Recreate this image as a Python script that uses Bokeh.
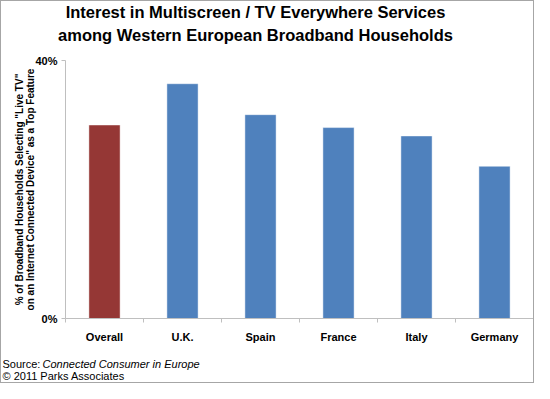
from bokeh.plotting import figure
from bokeh.models import Range1d, FixedTicker, Label, LinearAxis, ColumnDataSource, CustomJSTickFormatter
from bokeh.embed import file_html
from bokeh.resources import INLINE

categories = ["Overall", "U.K.", "Spain", "France", "Italy", "Germany"]
values = [30.0, 36.4, 31.6, 29.6, 28.3, 23.6]
bar_colors = ["#953735", "#4F81BD", "#4F81BD", "#4F81BD", "#4F81BD", "#4F81BD"]
y_ticks = [0, 40]
title_lines = ["Interest in Multiscreen / TV Everywhere Services",
               "among Western European Broadband Households"]
y_label = '% of Broadband Households Selecting "Live TV"\non an Internet Connected Device" as a Top Feature'
source_prefix = "Source: "
source_title = "Connected Consumer in Europe"
copyright_text = "\u00a9 2011 Parks Associates"

FONT = "Liberation Sans"
W, H = 534, 383
# plot-area geometry in figure pixels
AX_LEFT, AX_TOP, AX_BOTTOM = 64, 59, 317
CAT_PX = 78.0                      # pixels per category
Y_MAX = 40.0
PCT_PX = (AX_BOTTOM - AX_TOP) / Y_MAX

def fx(px):  # figure pixel x -> data x
    return (px - AX_LEFT) / CAT_PX

def fy(py):  # figure pixel y (from top) -> data y
    return (AX_BOTTOM - py) / PCT_PX

n = len(categories)
centers = [i + 0.5 for i in range(n)]
bounds_ticks = list(range(n + 1))
src = ColumnDataSource(dict(x=centers, val=values, color=bar_colors))

p = figure(width=W, height=H, output_backend="svg", toolbar_location=None,
           x_range=Range1d(fx(0), fx(W)), y_range=Range1d(fy(H), fy(0)),
           x_axis_type=None, y_axis_type=None, min_border=0)
p.xgrid.visible = False
p.ygrid.visible = False
p.outline_line_color = None

p.vbar(x="x", top="val", width=0.4, source=src, fill_color="color",
       line_color="#ffffff", line_alpha=0.45, line_width=1)

AXIS_GREY = "#bfbfbf"

# y axis
yax = LinearAxis(fixed_location=0, bounds=(0, Y_MAX), ticker=FixedTicker(ticks=y_ticks),
                 formatter=CustomJSTickFormatter(code="return tick + '%';"))
yax.minor_tick_line_color = None
yax.major_tick_out = 4
yax.major_tick_in = 0
yax.axis_line_color = AXIS_GREY
yax.major_tick_line_color = AXIS_GREY
yax.major_label_text_font = FONT
yax.major_label_text_font_style = "bold"
yax.major_label_text_font_size = "11px"
yax.major_label_text_color = "#000000"
yax.major_label_standoff = 4
yax.axis_label = y_label
yax.axis_label_text_font = FONT
yax.axis_label_text_font_style = "bold"
yax.axis_label_text_font_size = "10px"
yax.axis_label_text_line_height = 1.0
yax.axis_label_text_color = "#000000"
yax.axis_label_standoff = -4
p.add_layout(yax, "left")

# x axis: category labels at centres, small ticks at category boundaries
xax = LinearAxis(fixed_location=0, bounds=(0, n),
                 ticker=FixedTicker(ticks=centers, minor_ticks=bounds_ticks),
                 major_label_overrides={c: cat for c, cat in zip(centers, categories)})
xax.axis_line_color = AXIS_GREY
xax.major_tick_line_color = None
xax.major_tick_out = 0
xax.major_tick_in = 0
xax.minor_tick_line_color = AXIS_GREY
xax.minor_tick_out = 4
xax.minor_tick_in = 0
xax.major_label_text_font = FONT
xax.major_label_text_font_style = "bold"
xax.major_label_text_font_size = "11px"
xax.major_label_text_color = "#000000"
xax.major_label_standoff = 8
p.add_layout(xax, "below")

# title (two centred lines)
for line, py in zip(title_lines, (10, 33)):
    p.add_layout(Label(x=fx(254), y=fy(py), text=line, text_align="center",
                       text_baseline="middle", text_font=FONT, text_font_size="16.5px",
                       text_font_style="bold", text_color="#000000"))

# source text
src_kw = dict(text_font=FONT, text_font_size="11px", text_baseline="middle", text_color="#000000")
p.add_layout(Label(x=fx(1), y=fy(362), text=source_prefix, **src_kw))
p.add_layout(Label(x=fx(1 + 40), y=fy(362), text=source_title, text_font_style="italic", **src_kw))
p.add_layout(Label(x=fx(1), y=fy(374), text=copyright_text, **src_kw))

p.styles = {"border": "1px solid #a6a6a6"}

open("out.html", "w").write(file_html(p, INLINE))
